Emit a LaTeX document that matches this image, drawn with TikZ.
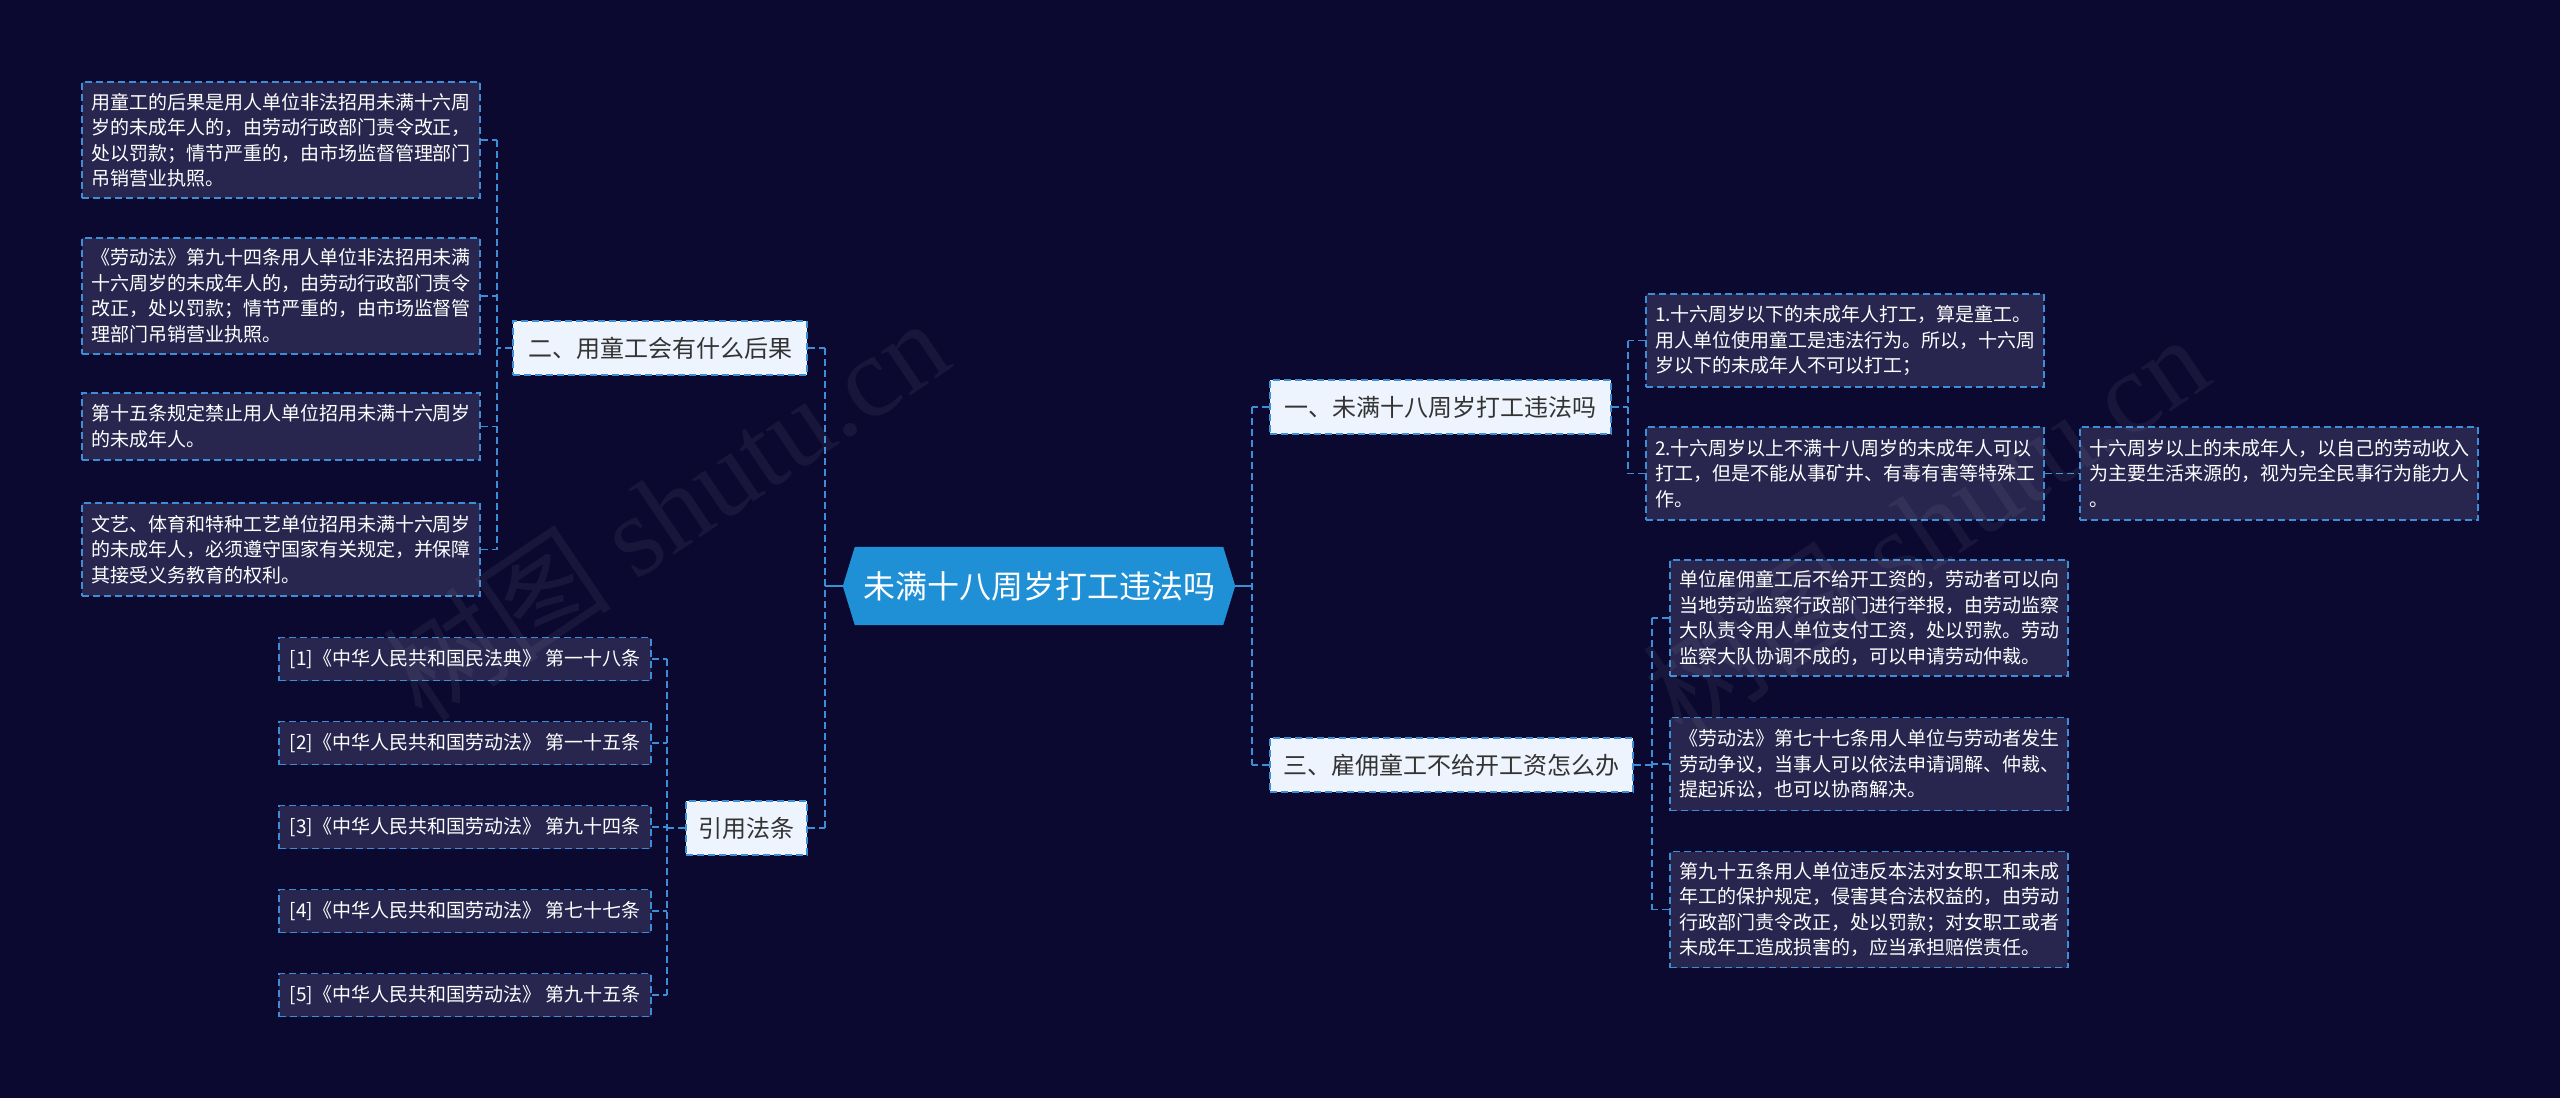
\documentclass[tikz,border=0pt]{standalone}
\usepackage{fontspec}
\setmainfont{Noto Sans CJK SC}
\newfontfamily\wmfont{Liberation Serif}
\usetikzlibrary{calc}
\pgfdeclarelayer{back}
\pgfsetlayers{back,main}
\definecolor{bgc}{HTML}{0B0930}
\definecolor{boxfill}{HTML}{28264F}
\definecolor{edgec}{HTML}{3C8FD6}
\definecolor{rootfill}{HTML}{1F8FD6}
\definecolor{lvfill}{HTML}{EEF4FD}
\definecolor{lvtext}{HTML}{333333}
\begin{document}
\begin{tikzpicture}[x=1pt,y=-1pt,
  dsh/.style={dash pattern=on 7pt off 4pt},
  leaf/.style={draw=edgec, line width=1.8pt, dsh, fill=boxfill, text=white,
    font=\fontsize{19}{25.5}\selectfont, align=left, text width=380pt,
    inner xsep=9pt, inner ysep=0pt, anchor=center},
  refbox/.style={draw=edgec, line width=1.8pt, dsh, fill=boxfill, text=white,
    font=\fontsize{19}{24}\selectfont, minimum width=372pt, minimum height=43pt,
    inner sep=0pt},
  lvl/.style={draw=edgec, line width=1.8pt, dsh, fill=lvfill, text=lvtext,
    font=\fontsize{24}{28}\selectfont, minimum height=54pt, inner sep=0pt},
  rootnode/.style={text=white, font=\fontsize{32}{36}\selectfont,
    minimum width=392pt, minimum height=78pt, inner sep=0pt},
  conn/.style={draw=edgec, line width=1.8pt, dsh},
  rconn/.style={draw=edgec, line width=2.6pt},
  wm/.style={text=white, text opacity=0.055, rotate=34,
    font=\fontsize{115}{115}\selectfont}
]
\begin{pgfonlayer}{back}
  \fill[bgc] (0,0) rectangle (2560,1098);
\end{pgfonlayer}
\useasboundingbox (0,0) rectangle (2560,1098);

% root
\node[rootnode] (root) at (1039,586) {未满十八周岁打工违法吗};
\begin{pgfonlayer}{back}
  \fill[rootfill] ($(root.north west)+(12,0)$) -- ($(root.north east)+(-12,0)$)
    -- (root.east) -- ($(root.south east)+(-12,0)$)
    -- ($(root.south west)+(12,0)$) -- (root.west) -- cycle;
\end{pgfonlayer}

% level 1
\node[lvl, minimum width=294pt] (n2) at (660,348) {二、用童工会有什么后果};
\node[lvl, minimum width=121pt] (cite) at (746.5,828) {引用法条};
\node[lvl, minimum width=341pt] (n1) at (1440.5,407) {一、未满十八周岁打工违法吗};
\node[lvl, minimum width=363pt] (n3) at (1451.5,765) {三、雇佣童工不给开工资怎么办};

% left leaves
\node[leaf, minimum height=116pt] (L1) at (281,140) {用童工的后果是用人单位非法招用未满十六周\\岁的未成年人的，由劳动行政部门责令改正，\\处以罚款；情节严重的，由市场监督管理部门\\吊销营业执照。};
\node[leaf, minimum height=116pt] (L2) at (281,296) {《劳动法》第九十四条用人单位非法招用未满\\十六周岁的未成年人的，由劳动行政部门责令\\改正，处以罚款；情节严重的，由市场监督管\\理部门吊销营业执照。};
\node[leaf, minimum height=67pt] (L3) at (281,426.5) {第十五条规定禁止用人单位招用未满十六周岁\\的未成年人。};
\node[leaf, minimum height=93pt] (L4) at (281,549.5) {文艺、体育和特种工艺单位招用未满十六周岁\\的未成年人，必须遵守国家有关规定，并保障\\其接受义务教育的权利。};

% references
\node[refbox] (R1) at (465,659) {[1]《中华人民共和国民法典》 第一十八条};
\node[refbox] (R2) at (465,743) {[2]《中华人民共和国劳动法》 第一十五条};
\node[refbox] (R3) at (465,827) {[3]《中华人民共和国劳动法》 第九十四条};
\node[refbox] (R4) at (465,911) {[4]《中华人民共和国劳动法》 第七十七条};
\node[refbox] (R5) at (465,995) {[5]《中华人民共和国劳动法》 第九十五条};

% right leaves
\node[leaf, minimum height=93pt] (A1) at (1845,340.5) {1.十六周岁以下的未成年人打工，算是童工。\\用人单位使用童工是违法行为。所以，十六周\\岁以下的未成年人不可以打工；};
\node[leaf, minimum height=93pt] (A2) at (1845,473.5) {2.十六周岁以上不满十八周岁的未成年人可以\\打工，但是不能从事矿井、有毒有害等特殊工\\作。};
\node[leaf, minimum height=93pt] (A3) at (2279,473.5) {十六周岁以上的未成年人，以自己的劳动收入\\为主要生活来源的，视为完全民事行为能力人\\。};
\node[leaf, minimum height=116pt] (B1) at (1869,618) {单位雇佣童工后不给开工资的，劳动者可以向\\当地劳动监察行政部门进行举报，由劳动监察\\大队责令用人单位支付工资，处以罚款。劳动\\监察大队协调不成的，可以申请劳动仲裁。};
\node[leaf, minimum height=93pt] (B2) at (1869,764) {《劳动法》第七十七条用人单位与劳动者发生\\劳动争议，当事人可以依法申请调解、仲裁、\\提起诉讼，也可以协商解决。};
\node[leaf, minimum height=116pt] (B3) at (1869,909.5) {第九十五条用人单位违反本法对女职工和未成\\年工的保护规定，侵害其合法权益的，由劳动\\行政部门责令改正，处以罚款；对女职工或者\\未成年工造成损害的，应当承担赔偿责任。};

% spine coordinates
\coordinate (sML) at (825,586);
\coordinate (sMR) at (1252,586);
\coordinate (s2) at (497,348);
\coordinate (sC) at (667,828);
\coordinate (s1) at (1628,407);
\coordinate (s3) at (1652,765);

% root connectors
\draw[rconn] (root.west) -- (sML);
\draw[rconn] (root.east) -- (sMR);
\draw[conn] (sML |- n2.east) -- (sML |- cite.east);
\draw[conn] (n2.east) -- (sML |- n2.east);
\draw[conn] (cite.east) -- (sML |- cite.east);
\draw[conn] (sMR |- n1.west) -- (sMR |- n3.west);
\draw[conn] (n1.west) -- (sMR |- n1.west);
\draw[conn] (n3.west) -- (sMR |- n3.west);

% group 2
\draw[conn] (n2.west) -- (s2);
\draw[conn] (s2 |- L1.east) -- (s2 |- L4.east);
\foreach \n in {L1,L2,L3,L4} \draw[conn] (\n.east) -- (s2 |- \n.east);

% citations
\draw[conn] (cite.west) -- (sC);
\draw[conn] (sC |- R1.east) -- (sC |- R5.east);
\foreach \n in {R1,R2,R3,R4,R5} \draw[conn] (\n.east) -- (sC |- \n.east);

% group 1
\draw[conn] (n1.east) -- (s1);
\draw[conn] (s1 |- A1.west) -- (s1 |- A2.west);
\foreach \n in {A1,A2} \draw[conn] (\n.west) -- (s1 |- \n.west);
\draw[conn] (A2.east) -- (A3.west);

% group 3
\draw[conn] (n3.east) -- (s3);
\draw[conn] (s3 |- B1.west) -- (s3 |- B3.west);
\foreach \n in {B1,B2,B3} \draw[conn] (\n.west) -- (s3 |- \n.west);

% watermarks
\node[wm] (wm1) at (665,509) {树图 {\wmfont shutu.cn}};
\node[wm] (wm2) at (1925,525) {树图 {\wmfont shutu.cn}};
\end{tikzpicture}
\end{document}
